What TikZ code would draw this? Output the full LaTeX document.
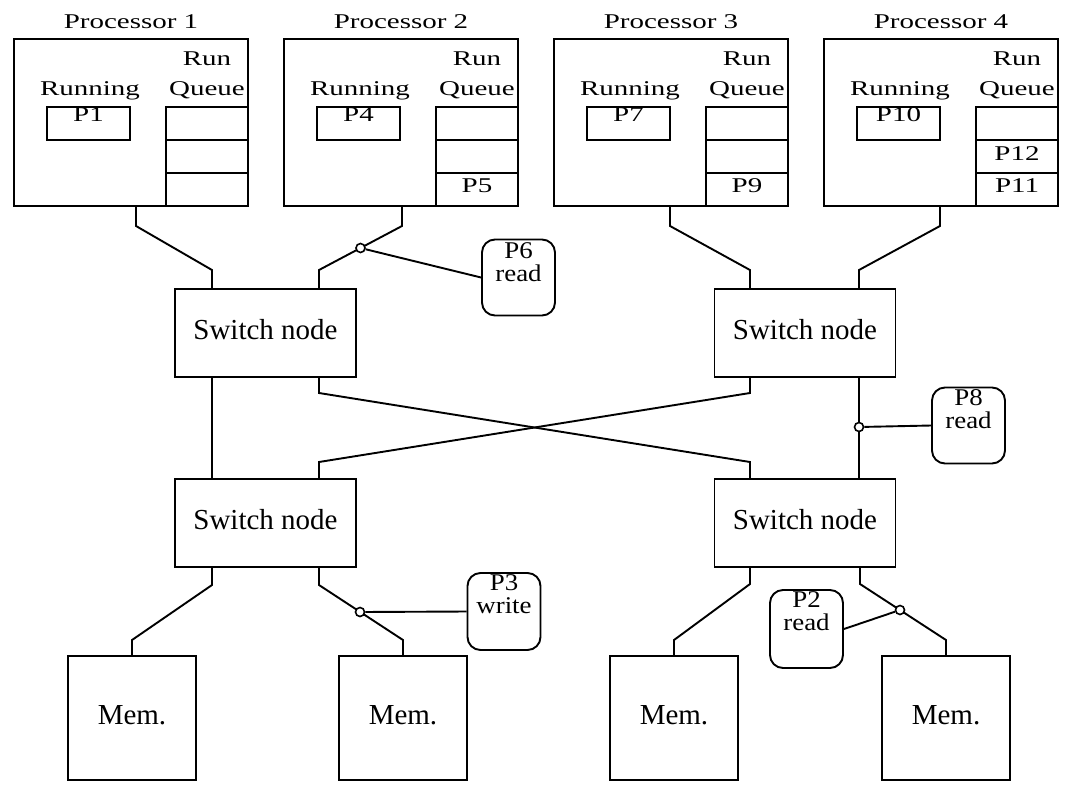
\documentclass[tikz,border=0pt]{standalone}
\usepackage{fontspec}
\setmainfont{Liberation Serif}
\newfontfamily\widefont{Liberation Serif}[FakeStretch=1.38]
\newfontfamily\callfont{Liberation Serif}[FakeStretch=1.12]
\begin{document}
\begin{tikzpicture}[x=1pt,y=-1pt,line width=1.9pt,
  box/.style={draw,rectangle,inner sep=0pt},
  lab/.style={inner sep=0pt,anchor=base,font=\widefont\fontsize{21}{21}\selectfont},
  call/.style={inner sep=0pt,anchor=north,align=center,font=\callfont\fontsize{24}{23}\selectfont},
  callbox/.style={draw,rectangle,rounded corners=13pt,inner sep=0pt,minimum width=73pt,minimum height=76pt},
  switchbox/.style={box,minimum width=181pt,minimum height=88pt,font=\fontsize{29}{29}\selectfont,text height=12pt,text depth=0pt},
  membox/.style={box,minimum width=128pt,minimum height=124pt,font=\fontsize{29}{29}\selectfont,text height=13pt,text depth=0pt},
  tap/.style={draw,circle,fill=white,inner sep=0pt,minimum size=9pt,line width=1.6pt},
  cell/.style={box,minimum width=82pt,minimum height=33pt},
]
\useasboundingbox (0,0) rectangle (1067,790);

% processors
\foreach \i/\L/\r/\qb/\qc in {1/14/P1/{}/{}, 2/284/P4/{}/P5, 3/554/P7/{}/P9, 4/824/P10/P12/P11}{
  \node[box,minimum width=234pt,minimum height=167pt] (proc\i) at (\L+117,122.5) {};
  \node[lab] (plab\i) at (\L+117,28) {Processor \i};
  \node[lab] (runlab\i) at (\L+76,95) {Running};
  \node[lab] (rqlab\i) at (\L+193,65) {Run};
  \node[lab] (qulab\i) at (\L+193,95) {Queue};
  \node[box,minimum width=83pt,minimum height=33pt] (rbox\i) at (\L+74.5,123.5) {};
  \node[lab] (rtxt\i) at (\L+74.5,121) {\r};
  \node[cell] (qa\i) at (\L+193,123.5) {};
  \node[cell] (qb\i) at (\L+193,156.5) {};
  \node[cell] (qc\i) at (\L+193,189.5) {};
  \node[lab] (qbt\i) at (\L+193,160) {\qb};
  \node[lab] (qct\i) at (\L+193,192) {\qc};
}

% switch nodes
\node[switchbox] (ts1) at (265.5,333) {Switch node};
\node[switchbox] (ts2) at (805,333) {Switch node};
\node[switchbox] (bs1) at (265.5,523) {Switch node};
\node[switchbox] (bs2) at (805,523) {Switch node};

% memories
\node[membox] (m1) at (132,718) {Mem.};
\node[membox] (m2) at (403,718) {Mem.};
\node[membox] (m3) at (674,718) {Mem.};
\node[membox] (m4) at (946,718) {Mem.};

% processor -> switch
\draw (136,0 |- proc1.south) -- (136,226) -- (212,270) -- (212,0 |- ts1.north);
\draw (402,0 |- proc2.south) -- (402,226) -- (319,270) -- (319,0 |- ts1.north);
\draw (670,0 |- proc3.south) -- (670,226) -- (750,270) -- (750,0 |- ts2.north);
\draw (940,0 |- proc4.south) -- (940,226) -- (859,270) -- (859,0 |- ts2.north);

% switch -> switch
\draw (212,0 |- ts1.south) -- (212,0 |- bs1.north);
\draw (319,0 |- ts1.south) -- (319,393) -- (750,462) -- (750,0 |- bs2.north);
\draw (319,0 |- bs1.north) -- (319,462) -- (750,393) -- (750,0 |- ts2.south);
\draw (859,0 |- ts2.south) -- (859,0 |- bs2.north);

% switch -> memory
\draw (212,0 |- bs1.south) -- (212,585) -- (132,640) -- (m1.north);
\draw (319,0 |- bs1.south) -- (319,585) -- (403,640) -- (m2.north);
\draw (750,0 |- bs2.south) -- (750,584) -- (674,640) -- (m3.north);
\draw (860,0 |- bs2.south) -- (860,584) -- (946,640) -- (m4.north);

% callouts
\node[callbox] (cb6) at (518.5,277.5) {};
\node[call] (cb6t) at ([yshift=-3pt]cb6.north) {P6\\read};
\node[callbox,minimum height=77pt] (cb3) at (504,611.5) {};
\node[call] (cb3t) at ([yshift=-2pt]cb3.north) {P3\\write};
\node[callbox] (cb8) at (968.5,425.5) {};
\node[call] (cb8t) at ([yshift=-2pt]cb8.north) {P8\\read};
\node[callbox,minimum height=78pt] (cb2) at (806.5,629) {};
\node[call] (cb2t) at ([yshift=-2pt]cb2.north) {P2\\read};

% taps
\node[tap] (t6) at (360.5,248) {};
\node[tap] (t3) at (360,612) {};
\node[tap] (t8) at (859,427) {};
\node[tap] (t2) at (900,610) {};
\draw (t6) -- (cb6.west);
\draw (t3) -- (cb3.west);
\draw (t8) -- (cb8.west);
\draw (t2) -- (cb2.east);
\end{tikzpicture}
\end{document}
